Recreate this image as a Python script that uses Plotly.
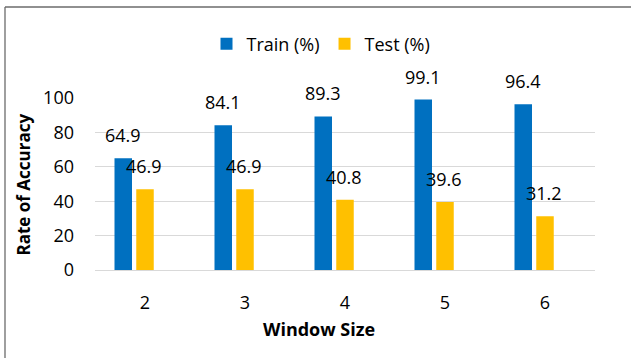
import plotly.graph_objects as go

categories = ["2", "3", "4", "5", "6"]
train_values = [64.9, 84.1, 89.3, 99.1, 96.4]
test_values = [46.9, 46.9, 40.8, 39.6, 31.2]
y_ticks = [0, 20, 40, 60, 80, 100]

FONT = "Open Sans"
BLUE = "#0070C0"
GOLD = "#FFC000"

W, H = 631, 358
ML, MR, MT, MB = 95, 36, 98, 88
PW, PH = W - ML - MR, H - MT - MB


def px_x(p):
    return (p - ML) / PW


def px_y(p):
    return (H - MB - p) / PH


fig = go.Figure()
fig.add_trace(go.Bar(x=categories, y=train_values, name="Train (%)",
                     marker=dict(color=BLUE, line=dict(width=0)),
                     width=0.175, offset=-0.305))
fig.add_trace(go.Bar(x=categories, y=test_values, name="Test (%)",
                     marker=dict(color=GOLD, line=dict(width=0)),
                     width=0.175, offset=-0.0875))

annotations = []
for i, v in enumerate(train_values):
    annotations.append(dict(x=i, y=v, xref="x", yref="y", text=f"{v:.1f}",
                            showarrow=False, xshift=-22.5, yshift=23,
                            yanchor="middle", xanchor="center",
                            font=dict(family=FONT, size=18, color="#000")))
for i, v in enumerate(test_values):
    annotations.append(dict(x=i, y=v, xref="x", yref="y", text=f"{v:.1f}",
                            showarrow=False, xshift=-1, yshift=23,
                            yanchor="middle", xanchor="center",
                            font=dict(family=FONT, size=18, color="#000")))
annotations.append(dict(x=px_x(319), y=px_y(329), xref="paper", yref="paper",
                        text="<b>Window Size</b>", showarrow=False,
                        xanchor="center", yanchor="middle",
                        font=dict(family=FONT, size=18, color="#000")))
annotations.append(dict(x=px_x(22.5), y=px_y(185), xref="paper", yref="paper",
                        text="<b>Rate of Accuracy</b>", showarrow=False,
                        textangle=-90, xanchor="center", yanchor="middle",
                        font=dict(family=FONT, size=17, color="#000")))

shapes = [
    dict(type="line", xref="paper", yref="paper",
         x0=px_x(5), x1=px_x(W + 2), y0=px_y(7), y1=px_y(7),
         line=dict(color="#6b6b6b", width=1.3)),
    dict(type="line", xref="paper", yref="paper",
         x0=px_x(5), x1=px_x(5), y0=px_y(7), y1=px_y(H + 2),
         line=dict(color="#6b6b6b", width=1.3)),
]

fig.update_layout(
    width=W, height=H,
    margin=dict(l=ML, r=MR, t=MT, b=MB),
    paper_bgcolor="white", plot_bgcolor="white",
    font=dict(family=FONT, size=18, color="#000"),
    showlegend=True,
    legend=dict(orientation="h", x=px_x(321), y=px_y(44),
                xanchor="center", yanchor="middle",
                font=dict(family=FONT, size=18, color="#000"),
                itemwidth=30, tracegroupgap=0, bgcolor="rgba(0,0,0,0)"),
    annotations=annotations,
    shapes=shapes,
    barmode="overlay",
)
fig.update_xaxes(type="category", range=[-0.5, 4.5], showgrid=False,
                 showline=False, zeroline=False,
                 ticks="", ticklabelstandoff=20,
                 tickfont=dict(family=FONT, size=18, color="#000"))
fig.update_yaxes(range=[0, 100], tickvals=y_ticks, showgrid=True,
                 gridcolor="#d9d9d9", gridwidth=1.3, zeroline=True,
                 zerolinecolor="#d9d9d9", zerolinewidth=1.3, showline=False,
                 ticks="", ticklabelstandoff=20,
                 tickfont=dict(family=FONT, size=18, color="#000"))

fig.write_html("out.html")
